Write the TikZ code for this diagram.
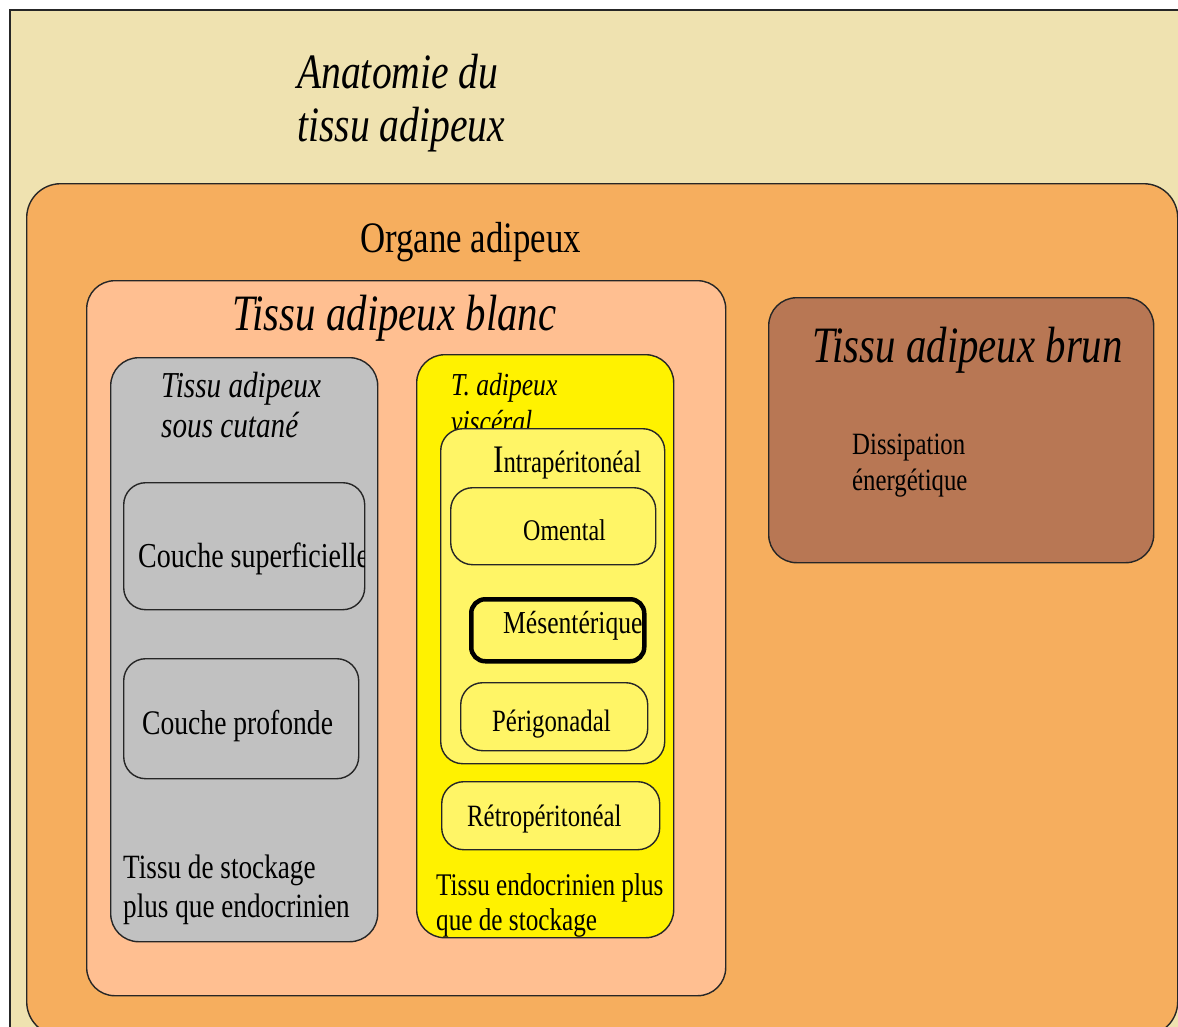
\documentclass[tikz,border=0pt]{standalone}
\usepackage{fontspec}
\setmainfont{Liberation Serif}[FakeStretch=0.8]
\definecolor{beige}{HTML}{EFE2B0}
\definecolor{orangebg}{HTML}{F6AE5E}
\definecolor{peach}{HTML}{FFBF91}
\definecolor{grayb}{HTML}{C1C1C1}
\definecolor{yel}{HTML}{FFF200}
\definecolor{lyel}{HTML}{FFF566}
\definecolor{brownb}{HTML}{B87754}
\tikzset{
  box/.style={draw=black!85, line width=1.4pt, rounded corners=28pt, inner sep=0pt, anchor=north west},
  small/.style={box, rounded corners=22pt},
  txt/.style={anchor=base west, inner sep=0pt, text=black},
}
\newcommand{\fs}[1]{\fontsize{#1}{#1}\selectfont}
\begin{document}
\begin{tikzpicture}[x=1pt,y=-1pt]
\useasboundingbox (0,0) rectangle (1178,1026);
\clip (0,0) rectangle (1178,1026);
\fill[white] (0,0) rectangle (1178,1026);
% outer frame
\node[box, rounded corners=0pt, fill=beige, line width=1.6pt, minimum width=1230pt, minimum height=1060pt] (outer) at (9,9) {};
\node[txt, font=\fs{49.5}\itshape] (t1) at (297,88) {Anatomie du};
\node[txt, font=\fs{49.5}\itshape] (t2) at (297,141) {tissu adipeux};
% organe
\node[box, fill=orangebg, rounded corners=34pt, minimum width=1151pt, minimum height=852pt] (organe) at (26,183) {};
\node[txt, font=\fs{43.5}] (lorg) at (360,252) {Organe adipeux};
% blanc
\node[box, fill=peach, minimum width=639pt, minimum height=715pt] (blanc) at (86,280) {};
\node[txt, font=\fs{51}\itshape] (lblanc) at (232,330) {Tissu adipeux blanc};
% brun
\node[box, fill=brownb, minimum width=385pt, minimum height=265pt] (brun) at (768,297) {};
\node[txt, font=\fs{51}\itshape] (lbrun) at (812,362) {Tissu adipeux brun};
\node[txt, font=\fs{31}] (d1) at (852,454) {Dissipation};
\node[txt, font=\fs{31}] (d2) at (852,490) {énergétique};
% sous cutane
\node[box, fill=grayb, minimum width=267pt, minimum height=584pt] (sc) at (110,357) {};
\node[txt, font=\fs{36.5}\itshape] (sc1) at (161,397) {Tissu adipeux};
\node[txt, font=\fs{36.5}\itshape] (sc2) at (161,437) {sous cutané};
\node[small, minimum width=241pt, minimum height=127pt] (csup) at (123,482) {};
\begin{scope}
\clip (csup.north west) rectangle ([xshift=-1pt]csup.south east);
\node[txt, font=\fs{35}] (lcsup) at (138,567) {Couche superficielle};
\end{scope}
\node[small, minimum width=235pt, minimum height=120pt] (cprof) at (123,658) {};
\node[txt, font=\fs{34.5}] (lcprof) at (142,734) {Couche profonde};
\node[txt, font=\fs{34}] (st1) at (123,878) {Tissu de stockage};
\node[txt, font=\fs{34}] (st2) at (123,917) {plus que endocrinien};
% visceral
\node[box, fill=yel, minimum width=257pt, minimum height=583pt] (visc) at (416,354) {};
\node[txt, font=\fs{32}\itshape] (v1) at (451,395) {T. adipeux};
\node[txt, font=\fs{32}\itshape] (v2) at (451,432) {viscéral};
\node[small, fill=lyel, minimum width=224pt, minimum height=335pt] (intra) at (440,428) {};
\node[txt, font=\fs{31}] (lintra) at (493,472) {{\fs{39}I}ntrapéritonéal};
\node[small, fill=lyel, minimum width=205pt, minimum height=77pt] (oment) at (450,487) {};
\node[txt, font=\fs{30}] (loment) at (523,540) {Omental};
\node[small, fill=lyel, draw=black, line width=4.5pt, rounded corners=14pt, minimum width=173pt, minimum height=62pt] (mes) at (469,597) {};
\begin{scope}
\clip (mes.north west) rectangle ([xshift=-2pt]mes.south east);
\node[txt, font=\fs{32}] (lmes) at (503,633) {Mésentérique};
\end{scope}
\node[small, fill=lyel, minimum width=187pt, minimum height=68pt] (perig) at (460,682) {};
\node[txt, font=\fs{31}] (lperig) at (492,731) {Périgonadal};
\node[small, fill=lyel, minimum width=218pt, minimum height=68pt] (retro) at (441,781) {};
\node[txt, font=\fs{31}] (lretro) at (467,826) {Rétropéritonéal};
\node[txt, font=\fs{31.5}] (e1) at (436,895) {Tissu endocrinien plus};
\node[txt, font=\fs{31.5}] (e2) at (436,930) {que de stockage};
\end{tikzpicture}
\end{document}
